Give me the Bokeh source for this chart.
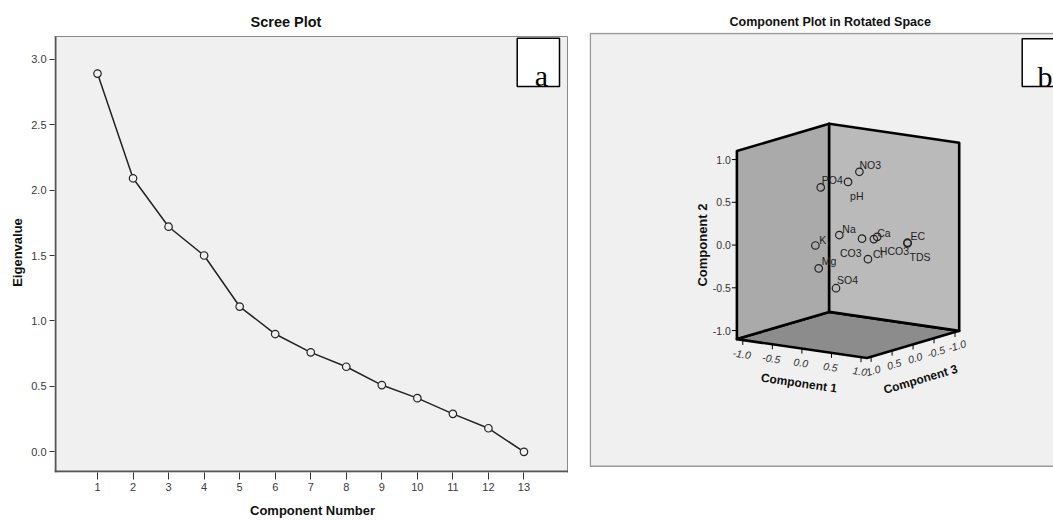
import numpy as np
from bokeh.plotting import figure
from bokeh.layouts import row
from bokeh.models import Range1d, FixedTicker, ColumnDataSource
from bokeh.core.properties import value
from bokeh.embed import file_html
from bokeh.resources import INLINE

# ---------------- data ----------------
components = list(range(1, 14))
eigenvalues = [2.89, 2.09, 1.72, 1.50, 1.11, 0.90, 0.76, 0.65, 0.51, 0.41, 0.29, 0.18, 0.00]
eig_ticks = [0.0, 0.5, 1.0, 1.5, 2.0, 2.5, 3.0]

variables = ["NO3", "PO4", "pH", "Na", "K", "Mg", "SO4", "CO3", "HCO3", "Ca", "Cl", "EC", "TDS"]
comp1 = [0.10, -0.10, 0.00, 0.20, 0.10, 0.10, 0.30, 0.40, 0.55, 0.60, 0.50, 0.90, 0.90]
comp2 = [0.80, 0.69, 0.69, 0.16, 0.09, -0.19, -0.42, 0.10, 0.10, 0.13, -0.13, 0.05, 0.04]
comp3 = [-0.13, 0.51, 0.00, 0.49, 0.92, 0.84, 0.71, 0.23, 0.16, 0.15, 0.23, -0.15, -0.15]
cube_ticks = [-1.0, -0.5, 0.0, 0.5, 1.0]

# label placement (pixels, y down) for the point labels
label_dx = [0, 1, 2, 3, 4, 3, 1, -22, 6, 0, 5, 3, 2]
label_dy = [-7, -7, 14, -6, -5, -7, -8, 14, 12, -4, -5, -7, 14]

SANS = "Liberation Sans"
SERIF = "Liberation Serif"
PANEL_BG = "#f0f0f0"

# both figures share the same top/bottom borders (Bokeh aligns frames in a row)
TOP, BOTTOM = 32, 47

# ---------------- left: scree plot ----------------
F1_L, F1_R, F1_T, F1_B = 54, 570, TOP, 520 - BOTTOM   # page pixel frame
X1_LO, X1_HI = -0.21, 14.309
Y1_LO, Y1_HI = -0.158, 3.204

p1 = figure(width=578, height=520, x_range=Range1d(X1_LO, X1_HI), y_range=Range1d(Y1_LO, Y1_HI),
            output_backend="svg", toolbar_location=None, title="Scree Plot",
            min_border_left=54, min_border_right=8, min_border_top=TOP, min_border_bottom=BOTTOM)
p1.background_fill_color = "white"
p1.border_fill_color = "white"
p1.outline_line_color = None
p1.grid.visible = False
p1.title.text_font = SANS
p1.title.text_font_size = "14.5px"
p1.title.text_font_style = "bold"
p1.title.text_color = "#111111"
p1.title.align = "left"
p1.title.offset = 196
p1.title.standoff = 5

for ax in (p1.xaxis[0], p1.yaxis[0]):
    ax.axis_line_color = None
    ax.major_tick_line_color = "#333333"
    ax.major_tick_line_width = 1
    ax.minor_tick_line_color = None
    ax.major_tick_in = 0
    ax.major_label_text_font = SANS
    ax.major_label_text_font_size = "11px"
    ax.major_label_text_color = "#3a3a3a"
    ax.axis_label_text_font = SANS
    ax.axis_label_text_font_style = "bold"
    ax.axis_label_text_font_size = "13px"
    ax.axis_label_text_color = "#111111"

p1.xaxis.ticker = FixedTicker(ticks=components)
p1.xaxis.major_label_overrides = {c: str(c) for c in components}
p1.xaxis.major_tick_out = 7
p1.xaxis.major_label_standoff = 3
p1.xaxis.axis_label = "Component Number"
p1.xaxis.axis_label_standoff = 9

p1.yaxis.ticker = FixedTicker(ticks=eig_ticks)
p1.yaxis.major_label_overrides = {t: f"{t:.1f}" for t in eig_ticks}
p1.yaxis.major_tick_out = 5
p1.yaxis.major_label_standoff = 3
p1.yaxis.axis_label = "Eigenvalue"
p1.yaxis.axis_label_standoff = 3


def px1(px):
    return X1_LO + (px - F1_L) * (X1_HI - X1_LO) / (F1_R - F1_L)


def py1(py):
    return Y1_HI - (py - F1_T) * (Y1_HI - Y1_LO) / (F1_B - F1_T)


# plot panel (grey area) with its thin top/right border and the dark axis lines
p1.quad(left=[px1(40)], right=[px1(567)], top=[py1(36)], bottom=[py1(500)],
        fill_color=PANEL_BG, line_color="#8a8a8a", line_width=1)
p1.segment(x0=[px1(55), px1(54)], y0=[py1(36), py1(472)],
           x1=[px1(55), px1(567.5)], y1=[py1(473), py1(472)],
           line_color="#555555", line_width=2)

src1 = ColumnDataSource(dict(x=components, y=eigenvalues))
p1.line("x", "y", source=src1, line_color="#222222", line_width=1.5)
p1.scatter("x", "y", source=src1, marker="circle", size=7.5, fill_color=PANEL_BG,
           line_color="#222222", line_width=1.2)

p1.quad(left=[px1(516.7)], right=[px1(559)], top=[py1(37.7)], bottom=[py1(86)],
        fill_color="white", line_color="black", line_width=1.5)
p1.text(x=[px1(541)], y=[py1(75)], text=["a"], text_align="center", text_baseline="alphabetic",
        text_font=value(SERIF), text_font_size="30px", text_color="black")

# ---------------- right: 3-D component plot ----------------
CX, CY = 847.55, 240.9           # page pixel position of the cube origin
F2_L, F2_R, F2_T, F2_B = 589, 1053, TOP, 520 - BOTTOM
SX1, SY1 = 59.1, -8.64           # screen step of one unit of component 1 (y up)
SX3, SY3 = -41.95, -12.4         # screen step of one unit of component 3
SY2 = 85.7                       # screen step of one unit of component 2
B = 1.1                          # cube half-size


def proj(c1, c2, c3):
    c1, c2, c3 = (np.asarray(v, dtype=float) for v in (c1, c2, c3))
    return SX1 * c1 + SX3 * c3, SY1 * c1 + SY2 * c2 + SY3 * c3


p2 = figure(width=475, height=520,
            x_range=Range1d(F2_L - CX, F2_R - CX), y_range=Range1d(CY - F2_B, CY - F2_T),
            output_backend="svg", toolbar_location=None, title="Component Plot in Rotated Space",
            x_axis_location=None, y_axis_location=None,
            min_border_left=11, min_border_right=0, min_border_top=TOP, min_border_bottom=BOTTOM)
p2.background_fill_color = "white"
p2.border_fill_color = "white"
p2.outline_line_color = None
p2.grid.visible = False
p2.title.text_font = SANS
p2.title.text_font_size = "12.5px"
p2.title.text_font_style = "bold"
p2.title.text_color = "#111111"
p2.title.align = "left"
p2.title.offset = 140
p2.title.standoff = 8

# panel
p2.quad(left=[589.8 - CX], right=[1070 - CX], top=[CY - 33], bottom=[CY - 466.7],
        fill_color=PANEL_BG, line_color="#9a9a9a", line_width=1.5)

# cube faces
floor = proj([-B, B, B, -B], [-B, -B, -B, -B], [B, B, -B, -B])
left_wall = proj([-B, -B, -B, -B], [-B, B, B, -B], [B, B, -B, -B])
back_wall = proj([-B, -B, B, B], [-B, B, B, -B], [-B, -B, -B, -B])
faces = [floor, left_wall, back_wall]
p2.patches(xs=[list(f[0]) for f in faces], ys=[list(f[1]) for f in faces],
           fill_color=["#8c8c8c", "#aaaaaa", "#bababa"],
           line_color="black", line_width=2.6, line_join="round")

# component 2 ticks (left vertical edge)
t = np.array(cube_ticks)
ex, ey = proj(np.full_like(t, -B), t, np.full_like(t, B))
p2.segment(x0=ex - 5, y0=ey, x1=ex, y1=ey, line_color="black", line_width=1)
p2.text(x=ex - 6, y=ey, text=[f"{v:.1f}" for v in cube_ticks], text_align="right",
        text_baseline="middle", text_font=value(SANS), text_font_size="10.5px",
        text_color="#333333")

# component 1 ticks (front-left bottom edge)
ex, ey = proj(t, np.full_like(t, -B), np.full_like(t, B))
p2.segment(x0=ex, y0=ey, x1=ex, y1=ey - 5, line_color="black", line_width=1)
p2.text(x=ex - 1, y=ey - 14, text=[f"{v:.1f}" for v in cube_ticks], angle=-0.145,
        text_align="center", text_baseline="middle", text_font=value(SANS),
        text_font_size="10.5px", text_font_style="italic", text_color="#333333")

# component 3 ticks (front-right bottom edge)
ex, ey = proj(np.full_like(t, B), np.full_like(t, -B), t)
p2.segment(x0=ex, y0=ey, x1=ex, y1=ey - 5, line_color="black", line_width=1)
p2.text(x=ex + 2, y=ey - 13.5, text=[f"{v:.1f}" for v in cube_ticks], angle=0.288,
        text_align="center", text_baseline="middle", text_font=value(SANS),
        text_font_size="10.5px", text_font_style="italic", text_color="#333333")

# axis titles
mx, my = proj([0.0], [-B], [B])
p2.text(x=mx - 3, y=my - 34.5, text=["Component 1"], angle=-0.145, text_align="center",
        text_baseline="middle", text_font=value(SANS), text_font_size="12px",
        text_font_style="bold", text_color="#111111")
mx, my = proj([B], [-B], [0.0])
p2.text(x=mx + 7.5, y=my - 35, text=["Component 3"], angle=0.288, text_align="center",
        text_baseline="middle", text_font=value(SANS), text_font_size="12px",
        text_font_style="bold", text_color="#111111")
mx, my = proj([-B], [0.0], [B])
p2.text(x=mx - 34.7, y=my, text=["Component 2"], angle=np.pi / 2, text_align="center",
        text_baseline="middle", text_font=value(SANS), text_font_size="13px",
        text_font_style="bold", text_color="#111111")

# loadings
px, py = proj(comp1, comp2, comp3)
src2 = ColumnDataSource(dict(x=px, y=py, name=variables, dx=label_dx, dy=label_dy))
p2.scatter("x", "y", source=src2, marker="circle", size=7.5, fill_alpha=0,
           line_color="#222222", line_width=1.2)
p2.text("x", "y", text="name", source=src2, x_offset="dx", y_offset="dy",
        text_align="left", text_baseline="alphabetic", text_font=value(SANS),
        text_font_size="10.5px", text_color="#222222")

# panel letter box
p2.quad(left=[1021.7 - CX], right=[1070 - CX], top=[CY - 38.3], bottom=[CY - 86],
        fill_color="white", line_color="black", line_width=1.5)
p2.text(x=[1037 - CX], y=[CY - 76], text=["b"], text_align="left", text_baseline="alphabetic",
        text_font=value(SERIF), text_font_size="30px", text_color="black")

layout = row(p1, p2)
open("out.html", "w").write(file_html(layout, INLINE))
